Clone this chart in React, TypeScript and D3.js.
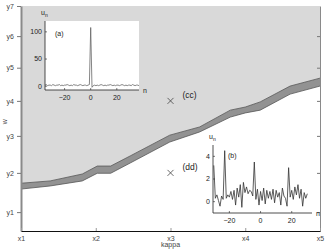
import React, { useEffect, useRef } from 'react';
import * as d3 from 'd3';

// main axes
const xTicks = [1, 2, 3, 4, 5];
const xTickLabels = ['x1', 'x2', 'x3', 'x4', 'x5'];
const yTicks = [16, 17, 18, 19, 20, 21, 22];
const yTickLabels = ['y1', 'y2', 'y3', 'y4', 'y5', 'y6', 'y7'];

// boundaries of the dark band (kappa, w)
const edgeX = [1, 1.39, 1.82, 2.02, 2.2, 2.46, 2.99, 3.39, 3.8, 4.0, 4.2, 4.6, 5.0];
const upperEdge = [16.73, 16.79, 16.97, 17.18, 17.18, 17.45, 18.02, 18.25, 18.73, 18.82, 18.97, 19.44, 19.68];
const lowerEdge = [16.58, 16.66, 16.79, 16.99, 16.99, 17.26, 17.83, 18.11, 18.53, 18.65, 18.73, 19.2, 19.44];

// marked points
const markerX = [3, 3];
const markerY = [19, 17];
const markerLabels = ['(cc)', '(dd)'];

// inset (a): n = -35 .. 37
const insetAStart = -35;
const insetAValues = [
  2, 3, 1, 2, 2, 1, 3, 2, 1, 2,
  2, 3, 1, 2, 1, 2, 2, 3, 2, 1,
  2, 1, 3, 2, 2, 1, 2, 3, 2, 1,
  2, 2, 1, 2, 3,
  108,
  -2,
  1, 2, 1, 2, 1, 2, 3, 2, 1, 2,
  1, 2, 2, 3, 2, 1, 2, 1, 2, 2,
  1, 2, 3, 2, 1, 2, 1, 2, 2, 1,
  3, 2, 1, 2, 2, 1,
];
const insetATicksX = [-20, 0, 20];
const insetATicksY = [0, 50, 100];

// inset (b): n = -30 .. 30
const insetBStart = -30;
const insetBValues = [
  3.2, 0.3, 0.6, 0.1, -0.4, 0.5, 0.2, 4.5, 0.3, 0.6,
  0.4, 0.9, 0.2, 1.0, -0.3, 1.2, 0.4, 1.5, -0.5, 1.7,
  0.8, 1.3, 0.7, 1.0, 0.9, 0.5, 3.5, 0.2, 1.1, -0.3,
  0.9,
  0.1, 1.2, -0.2, 1.0, 0.3, 0.9, 0.2, 1.1, -0.1, 1.0,
  0.4, 0.8, -0.3, 1.2, 0.5, 0.3, -0.4, 3.0, 0.4, 1.0,
  0.2, 1.3, 0.6, 1.5, 0.3, 1.1, -0.4, 0.8, 0.3, 0.7,
];
const insetBTicksX = [-20, 0, 20];
const insetBTicksY = [0, 2, 4];

const font = '"Liberation Sans", Arial, sans-serif';

function drawInset(svg: any, opts: any) {
  const { x, y, values, start, ticksX, ticksY, tag, tagX, tagY, stroke } = opts;
  const [x0, x1] = x.range();
  const [yb, yt] = y.range();
  const g = svg.append('g');

  g.append('rect')
    .attr('x', x0).attr('y', yt)
    .attr('width', x1 - x0).attr('height', yb - yt)
    .attr('fill', '#fff');

  const line = d3.line<number>()
    .x((d, i) => x(start + i))
    .y(d => y(d));
  g.append('path')
    .datum(values)
    .attr('d', line)
    .attr('fill', 'none')
    .attr('stroke', stroke)
    .attr('stroke-width', 0.8);

  g.append('line').attr('x1', x0).attr('x2', x0).attr('y1', yt).attr('y2', yb)
    .attr('stroke', '#222').attr('stroke-width', 0.8);
  g.append('line').attr('x1', x0).attr('x2', x1).attr('y1', yb).attr('y2', yb)
    .attr('stroke', '#222').attr('stroke-width', 0.8);

  ticksY.forEach((t: number) => {
    g.append('line').attr('x1', x0).attr('x2', x0 + 2).attr('y1', y(t)).attr('y2', y(t))
      .attr('stroke', '#222').attr('stroke-width', 0.6);
    g.append('text').attr('x', x0 - 3).attr('y', y(t)).attr('dy', '0.35em')
      .attr('text-anchor', 'end').attr('font-size', 7).attr('font-family', font)
      .attr('fill', '#222').text(t);
  });
  ticksX.forEach((t: number) => {
    g.append('line').attr('x1', x(t)).attr('x2', x(t)).attr('y1', yb).attr('y2', yb - 2)
      .attr('stroke', '#222').attr('stroke-width', 0.6);
    g.append('text').attr('x', x(t)).attr('y', yb + 10)
      .attr('text-anchor', 'middle').attr('font-size', 7).attr('font-family', font)
      .attr('fill', '#222').text(t < 0 ? '\u2212' + Math.abs(t) : t);
  });

  const lab = g.append('text').attr('x', x0 - 4).attr('y', yt - 6)
    .attr('font-size', 7).attr('font-family', font).attr('fill', '#222');
  lab.append('tspan').text('u');
  lab.append('tspan').attr('font-size', 5).attr('dy', 2).text('n');

  g.append('text').attr('x', x1 + 4).attr('y', yb + 2.5)
    .attr('font-size', 7).attr('font-family', font).attr('fill', '#222').text('n');

  g.append('text').attr('x', tagX).attr('y', tagY)
    .attr('font-size', 7).attr('font-family', font).attr('fill', '#222').text(tag);
}

export default function App() {
  const ref = useRef<SVGSVGElement>(null);

  useEffect(() => {
    const width = 327;
    const height = 250;
    const margin = { top: 6, right: 7, bottom: 19, left: 21 };
    const svg = d3.select(ref.current);
    svg.selectAll('*').remove();

    const x = d3.scaleLinear().domain([1, 5]).range([margin.left, width - margin.right]);
    const y = d3.scaleLog().domain([15.54, 22]).range([height - margin.bottom, margin.top]);
    const idx = edgeX.map((d, i) => i);

    // light region above the band
    const upperArea = d3.area<number>()
      .x(i => x(edgeX[i]))
      .y0(margin.top)
      .y1(i => y(upperEdge[i]));
    svg.append('path').attr('d', upperArea(idx)).attr('fill', '#d9d9d9');

    // dark band
    const band = d3.area<number>()
      .x(i => x(edgeX[i]))
      .y0(i => y(lowerEdge[i]))
      .y1(i => y(upperEdge[i]));
    svg.append('path').attr('d', band(idx)).attr('fill', '#929292');

    const edgeLine = (arr: number[]) => d3.line<number>().x(i => x(edgeX[i])).y(i => y(arr[i]))(idx);
    svg.append('path').attr('d', edgeLine(upperEdge)).attr('fill', 'none')
      .attr('stroke', '#555').attr('stroke-width', 0.8);
    svg.append('path').attr('d', edgeLine(lowerEdge)).attr('fill', 'none')
      .attr('stroke', '#555').attr('stroke-width', 0.8);

    // axes
    const left = svg.append('g')
      .attr('transform', `translate(${margin.left},0)`)
      .call(d3.axisLeft(y).tickValues(yTicks).tickFormat((d, i) => yTickLabels[i]).tickSize(4).tickSizeOuter(0));
    left.select('.domain').attr('stroke', '#8a8a8a').attr('stroke-width', 2);
    left.selectAll('.tick line').attr('stroke', '#777');
    left.selectAll('text').attr('font-size', 7).attr('font-family', font).attr('fill', '#444');

    const right = svg.append('g')
      .attr('transform', `translate(${width - margin.right},0)`)
      .call(d3.axisRight(y).tickValues(yTicks.slice(0, 6)).tickFormat(() => '').tickSize(-3).tickSizeOuter(0));
    right.select('.domain').attr('stroke', '#8a8a8a').attr('stroke-width', 1);
    right.selectAll('.tick line').attr('stroke', '#777');

    const bottom = svg.append('g')
      .attr('transform', `translate(0,${height - margin.bottom})`)
      .call(d3.axisBottom(x).tickValues(xTicks).tickFormat((d, i) => xTickLabels[i]).tickSize(-3).tickSizeOuter(0).tickPadding(5));
    bottom.select('.domain').attr('stroke', '#111').attr('stroke-width', 1);
    bottom.selectAll('.tick line').attr('stroke', '#999');
    bottom.selectAll('text').attr('font-size', 7).attr('font-family', font).attr('fill', '#444');

    svg.append('text').attr('x', x(3)).attr('y', height - 3)
      .attr('text-anchor', 'middle').attr('font-size', 7).attr('font-family', font)
      .attr('fill', '#444').text('kappa');
    svg.append('text').attr('transform', `translate(7,${y(18.4)}) rotate(-90)`)
      .attr('text-anchor', 'middle').attr('font-size', 7).attr('font-family', font)
      .attr('fill', '#444').text('w');

    // markers
    markerX.forEach((mx, i) => {
      const px = x(mx);
      const py = y(markerY[i]);
      svg.append('path')
        .attr('d', `M${px - 3},${py - 3}L${px + 3},${py + 3}M${px - 3},${py + 3}L${px + 3},${py - 3}`)
        .attr('stroke', '#444').attr('stroke-width', 0.8);
      svg.append('text').attr('x', px + 12).attr('y', py - 3)
        .attr('font-size', 8.5).attr('font-family', font).attr('fill', '#222')
        .text(markerLabels[i]);
    });

    // insets
    drawInset(svg, {
      x: d3.scaleLinear().domain([-35, 37]).range([45, 139]),
      y: d3.scaleLinear().domain([-7, 120]).range([90, 21]),
      values: insetAValues, start: insetAStart,
      ticksX: insetATicksX, ticksY: insetATicksY,
      tag: '(a)', tagX: 55, tagY: 36, stroke: '#666',
    });
    drawInset(svg, {
      x: d3.scaleLinear().domain([-30.5, 33]).range([213, 312]),
      y: d3.scaleLinear().domain([-1, 5]).range([213, 145]),
      values: insetBValues, start: insetBStart,
      ticksX: insetBTicksX, ticksY: insetBTicksY,
      tag: '(b)', tagX: 228, tagY: 158, stroke: '#333',
    });
  }, []);

  return (
    <svg ref={ref} width={327} height={250}
      style={{ position: 'absolute', left: 0, top: 0, background: '#fff' }} />
  );
}
